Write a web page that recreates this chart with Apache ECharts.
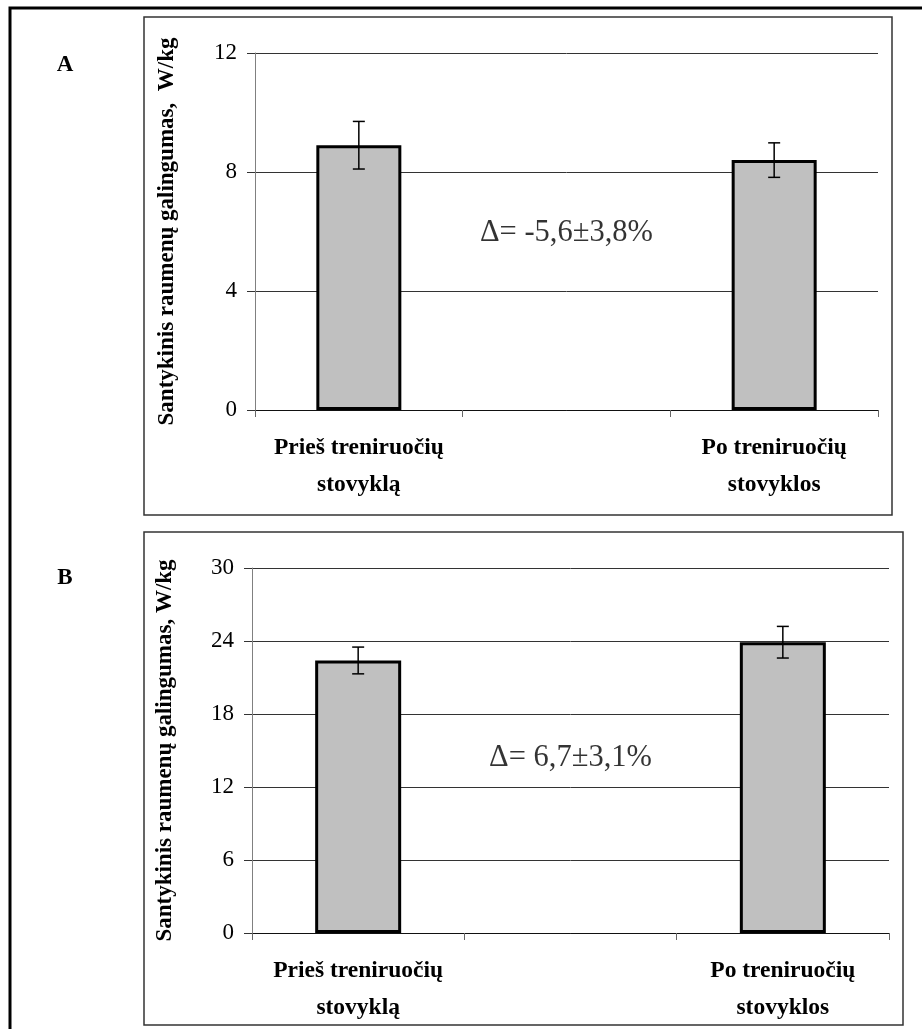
<!DOCTYPE html>
<html>
<head>
<meta charset="utf-8">
<title>Santykinis raumenų galingumas</title>
<script src="https://cdn.jsdelivr.net/npm/echarts@6/dist/echarts.min.js"></script>
<style>
  html, body { margin: 0; padding: 0; background: #fff; }
  #chart { width: 922px; height: 1029px; }
</style>
</head>
<body>
<div id="chart"></div>
<script>
// Category slots: the empty middle slot holds the change (Δ) annotation
const categories = ['Prieš treniruočių\nstovyklą', '', 'Po treniruočių\nstovyklos'];

// Panel A: relative muscle power, W/kg (mean and ± error)
const powerA = [8.9, null, 8.4];
const errorA = [0.8, null, 0.58];
const deltaA = 'Δ= -5,6±3,8%';
const ticksA = { min: 0, max: 12, interval: 4 };

// Panel B: relative muscle power, W/kg (mean and ± error)
const powerB = [22.4, null, 23.9];
const errorB = [1.1, null, 1.3];
const deltaB = 'Δ= 6,7±3,1%';
const ticksB = { min: 0, max: 30, interval: 6 };

// Vertical positions (in axis units) for the Δ annotations
const deltaPosA = 5.95;
const deltaPosB = 14.4;

const SERIF = "'Liberation Serif', 'Times New Roman', serif";

function yAxisFor(ticks, name, gap, gridIndex) {
  return {
    type: 'value', gridIndex,
    min: ticks.min, max: ticks.max, interval: ticks.interval,
    name, nameLocation: 'middle', nameGap: gap, nameRotate: 90,
    nameTextStyle: { fontFamily: SERIF, fontWeight: 'bold', fontSize: 23, color: '#000' },
    axisLine: { show: true, lineStyle: { color: '#808080', width: 1 } },
    axisTick: { show: true, inside: false, length: 8, lineStyle: { color: '#333' } },
    axisLabel: { fontFamily: SERIF, fontSize: 23, color: '#000', margin: 18 },
    splitLine: { show: true, lineStyle: { color: '#333', width: 1 } }
  };
}

function xAxisFor(gridIndex) {
  return {
    type: 'category', gridIndex, data: categories, boundaryGap: true,
    axisLine: { show: true, lineStyle: { color: '#111', width: 1 } },
    axisTick: { show: true, alignWithLabel: false, length: 7, lineStyle: { color: '#666' } },
    axisLabel: {
      interval: 0, fontFamily: SERIF, fontWeight: 'bold', fontSize: 23.5,
      color: '#000', margin: 19, lineHeight: 37
    },
    splitLine: { show: false }
  };
}

function barSeries(values, idx, width) {
  return {
    type: 'bar', xAxisIndex: idx, yAxisIndex: idx, data: values,
    barWidth: width, silent: true,
    itemStyle: { color: '#c0c0c0', borderColor: '#000', borderWidth: 3 }
  };
}

function errorSeries(values, errors, idx) {
  const data = [];
  values.forEach((v, i) => {
    if (v != null) data.push([i, v - errors[i], v + errors[i]]);
  });
  return {
    type: 'custom', xAxisIndex: idx, yAxisIndex: idx, data, silent: true, z: 10,
    renderItem(params, api) {
      const lo = api.coord([api.value(0), api.value(1)]);
      const hi = api.coord([api.value(0), api.value(2)]);
      const half = 6;
      const style = { stroke: '#000', lineWidth: 1.5 };
      return {
        type: 'group',
        children: [
          { type: 'line', shape: { x1: hi[0], y1: hi[1], x2: lo[0], y2: lo[1] }, style },
          { type: 'line', shape: { x1: hi[0] - half, y1: hi[1], x2: hi[0] + half, y2: hi[1] }, style },
          { type: 'line', shape: { x1: lo[0] - half, y1: lo[1], x2: lo[0] + half, y2: lo[1] }, style }
        ]
      };
    }
  };
}

function deltaSeries(text, pos, idx) {
  return {
    type: 'scatter', xAxisIndex: idx, yAxisIndex: idx, silent: true,
    symbolSize: 0, data: [[1, pos]],
    label: {
      show: true, position: 'inside', formatter: text,
      fontFamily: SERIF, fontSize: 30.5, color: '#000'
    }
  };
}

const chart = echarts.init(document.getElementById('chart'), null, { renderer: 'canvas' });

chart.setOption({
  backgroundColor: '#fff',
  animation: false,
  grid: [
    { left: 255, right: 44, top: 53, height: 357, containLabel: false },
    { left: 252, right: 33, top: 568, height: 365, containLabel: false }
  ],
  xAxis: [xAxisFor(0), xAxisFor(1)],
  yAxis: [
    yAxisFor(ticksA, 'Santykinis raumenų galingumas,  W/kg', 76, 0),
    yAxisFor(ticksB, 'Santykinis raumenų galingumas, W/kg', 75, 1)
  ],
  series: [
    barSeries(powerA, 0, 85),
    errorSeries(powerA, errorA, 0),
    deltaSeries(deltaA, deltaPosA, 0),
    barSeries(powerB, 1, 86),
    errorSeries(powerB, errorB, 1),
    deltaSeries(deltaB, deltaPosB, 1)
  ],
  graphic: [
    // outer frame
    { type: 'rect', shape: { x: 10, y: 8, width: 940, height: 1050 },
      style: { fill: 'none', stroke: '#000', lineWidth: 3 }, silent: true },
    // panel frames
    { type: 'rect', shape: { x: 144, y: 17, width: 748, height: 498 },
      style: { fill: 'none', stroke: '#333', lineWidth: 1.5 }, silent: true },
    { type: 'rect', shape: { x: 144, y: 532, width: 759, height: 493 },
      style: { fill: 'none', stroke: '#333', lineWidth: 1.5 }, silent: true },
    // panel letters
    { type: 'text', x: 65, y: 65, silent: true,
      style: { text: 'A', fontFamily: SERIF, fontWeight: 'bold', fontSize: 23, fill: '#000',
               align: 'center', verticalAlign: 'middle' } },
    { type: 'text', x: 65, y: 578, silent: true,
      style: { text: 'B', fontFamily: SERIF, fontWeight: 'bold', fontSize: 23, fill: '#000',
               align: 'center', verticalAlign: 'middle' } }
  ]
});
</script>
</body>
</html>
